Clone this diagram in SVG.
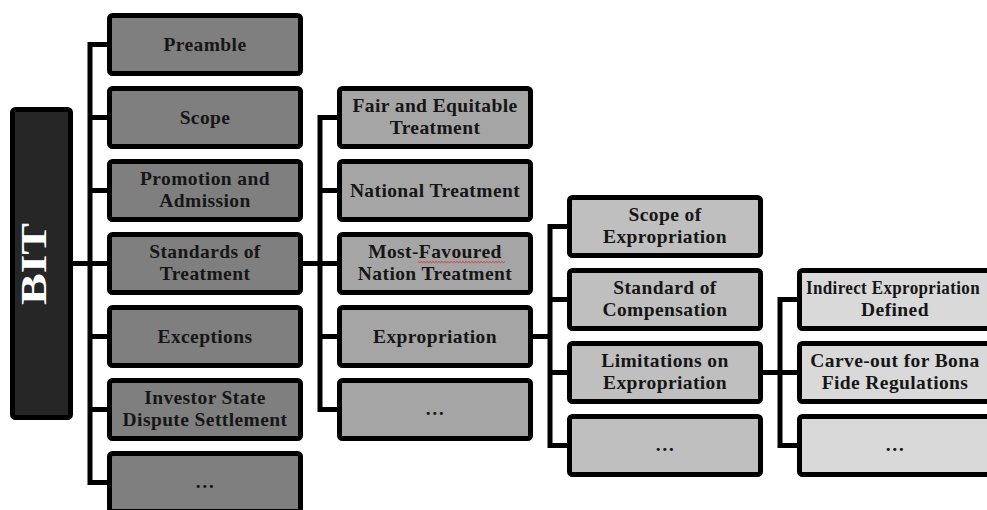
<svg xmlns="http://www.w3.org/2000/svg" width="987" height="510" viewBox="0 0 987 510">
<style>
.box{stroke:#000;stroke-width:5}
.c1{fill:#7f7f7f}.c2{fill:#a5a5a5}.c3{fill:#bfbfbf}.c4{fill:#d9d9d9}
.t{font-family:"Liberation Serif","Times New Roman",serif;font-weight:bold;font-size:19.5px;letter-spacing:0.4px;fill:#161616;text-anchor:middle}
.ln{stroke:#000;stroke-width:5;fill:none}
.tr{stroke:#000;stroke-width:5;fill:none;stroke-linecap:square}
</style>
<rect width="987" height="510" fill="#fff"/>
<g id="connectors">
<path class="ln" d="M73 263.5H90"/>
<path class="tr" d="M90 44.5V482.5"/>
<path class="ln" d="M90 44.5H107M90 117.5H107M90 190.5H107M90 263.5H107M90 336.5H107M90 409.5H107M90 482.5H107"/>
<path class="ln" d="M303 263.5H320"/>
<path class="tr" d="M320 117.5V409.5"/>
<path class="ln" d="M320 117.5H337M320 190.5H337M320 263.5H337M320 336.5H337M320 409.5H337"/>
<path class="ln" d="M533 336.5H550"/>
<path class="tr" d="M550 226.5V445.5"/>
<path class="ln" d="M550 226.5H567M550 299.5H567M550 372.5H567M550 445.5H567"/>
<path class="ln" d="M763 372.5H780"/>
<path class="tr" d="M780 299.5V445.5"/>
<path class="ln" d="M780 299.5H797M780 372.5H797M780 445.5H797"/>
</g>
<g id="bit">
<rect class="box" x="12.5" y="109.5" width="58" height="308" rx="3" fill="#262626"/>
<text transform="translate(46,264) rotate(-90)" x="0" y="0" font-family="Liberation Serif, Times New Roman, serif" font-weight="bold" font-size="36" fill="#fff" text-anchor="middle" textLength="82" lengthAdjust="spacingAndGlyphs">BIT</text>
</g>
<g id="preamble"><rect class="box c1" x="109.5" y="15.5" width="191" height="58" rx="3"/><text class="t" x="205" y="51">Preamble</text></g>
<g id="scope"><rect class="box c1" x="109.5" y="88.5" width="191" height="58" rx="3"/><text class="t" x="205" y="124">Scope</text></g>
<g id="promotion"><rect class="box c1" x="109.5" y="161.5" width="191" height="58" rx="3"/><text class="t" x="205" y="185">Promotion and</text><text class="t" x="205" y="207">Admission</text></g>
<g id="standards"><rect class="box c1" x="109.5" y="234.5" width="191" height="58" rx="3"/><text class="t" x="205" y="258">Standards of</text><text class="t" x="205" y="280">Treatment</text></g>
<g id="exceptions"><rect class="box c1" x="109.5" y="307.5" width="191" height="58" rx="3"/><text class="t" x="205" y="343">Exceptions</text></g>
<g id="isds"><rect class="box c1" x="109.5" y="380.5" width="191" height="58" rx="3"/><text class="t" x="205" y="404">Investor State</text><text class="t" x="205" y="426">Dispute Settlement</text></g>
<g id="more1"><rect class="box c1" x="109.5" y="453.5" width="191" height="58" rx="3"/><text class="t" x="205" y="488">…</text></g>
<g id="fet"><rect class="box c2" x="339.5" y="88.5" width="191" height="58" rx="3"/><text class="t" x="435" y="112">Fair and Equitable</text><text class="t" x="435" y="134">Treatment</text></g>
<g id="nt"><rect class="box c2" x="339.5" y="161.5" width="191" height="58" rx="3"/><text class="t" x="435" y="197">National Treatment</text></g>
<g id="mfn"><rect class="box c2" x="339.5" y="234.5" width="191" height="58" rx="3"/><text class="t" x="435" y="258">Most-Favoured</text><text class="t" x="435" y="280">Nation Treatment</text>
<path d="M418 261.5l1.5 1.2l1.5-1.2l1.5 1.2l1.5-1.2l1.5 1.2l1.5-1.2l1.5 1.2l1.5-1.2l1.5 1.2l1.5-1.2l1.5 1.2l1.5-1.2l1.5 1.2l1.5-1.2l1.5 1.2l1.5-1.2l1.5 1.2l1.5-1.2l1.5 1.2l1.5-1.2l1.5 1.2l1.5-1.2l1.5 1.2l1.5-1.2l1.5 1.2l1.5-1.2l1.5 1.2l1.5-1.2l1.5 1.2l1.5-1.2l1.5 1.2l1.5-1.2l1.5 1.2l1.5-1.2l1.5 1.2l1.5-1.2l1.5 1.2l1.5-1.2l1.5 1.2l1.5-1.2l1.5 1.2l1.5-1.2l1.5 1.2l1.5-1.2l1.5 1.2l1.5-1.2l1.5 1.2l1.5-1.2l1.5 1.2l1.5-1.2l1.5 1.2l1.5-1.2l1.5 1.2l1.5-1.2l1.5 1.2l1.5-1.2l1.5 1.2l1.5-1.2" fill="none" stroke="#e02020" stroke-width="0.8"/></g>
<g id="expropriation"><rect class="box c2" x="339.5" y="307.5" width="191" height="58" rx="3"/><text class="t" x="435" y="343">Expropriation</text></g>
<g id="more2"><rect class="box c2" x="339.5" y="380.5" width="191" height="58" rx="3"/><text class="t" x="435" y="415">…</text></g>
<g id="scopeexp"><rect class="box c3" x="569.5" y="197.5" width="191" height="58" rx="3"/><text class="t" x="665" y="221">Scope of</text><text class="t" x="665" y="243">Expropriation</text></g>
<g id="compensation"><rect class="box c3" x="569.5" y="270.5" width="191" height="58" rx="3"/><text class="t" x="665" y="294">Standard of</text><text class="t" x="665" y="316">Compensation</text></g>
<g id="limitations"><rect class="box c3" x="569.5" y="343.5" width="191" height="58" rx="3"/><text class="t" x="665" y="367">Limitations on</text><text class="t" x="665" y="389">Expropriation</text></g>
<g id="more3"><rect class="box c3" x="569.5" y="416.5" width="191" height="58" rx="3"/><text class="t" x="665" y="451">…</text></g>
<g id="indirect"><rect class="box c4" x="799.5" y="270.5" width="191" height="58" rx="3"/><text class="t" x="893" y="294" textLength="174" lengthAdjust="spacingAndGlyphs">Indirect Expropriation</text><text class="t" x="895" y="316">Defined</text></g>
<g id="carveout"><rect class="box c4" x="799.5" y="343.5" width="191" height="58" rx="3"/><text class="t" x="895" y="367">Carve-out for Bona</text><text class="t" x="895" y="389">Fide Regulations</text></g>
<g id="more4"><rect class="box c4" x="799.5" y="416.5" width="191" height="58" rx="3"/><text class="t" x="895" y="451">…</text></g>
</svg>
